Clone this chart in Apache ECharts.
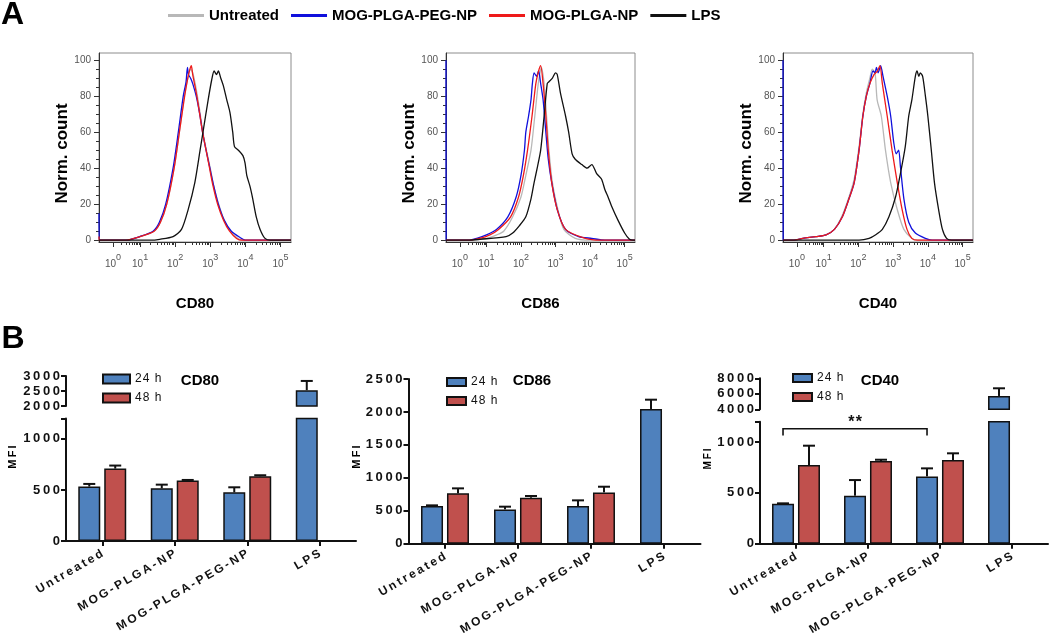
<!DOCTYPE html>
<html><head><meta charset="utf-8">
<script src="https://cdn.jsdelivr.net/npm/echarts@6/dist/echarts.min.js"></script>
<style>html,body{margin:0;padding:0;background:#fff}#c{width:1050px;height:640px}</style>
</head><body><div id="c"></div>
<script>
// ===== Panel A: flow cytometry histograms. x = display decade (10^x, 10^0 compressed), y = normalized count
const decadeExponents = ['0','1','2','3','4','5'];
const decadePositions = [0.23, 1, 2, 3, 4, 5];
const histNames = ['Untreated', 'MOG-PLGA-PEG-NP', 'MOG-PLGA-NP', 'LPS'];
const yTickValues = [0, 20, 40, 60, 80, 100];

const cd80Untreated = [[-0.17,0],[0.6,0],[1.0,2],[1.4,5],[1.58,10],[1.76,20],[1.97,40],[2.12,60],[2.26,80],[2.36,90],[2.44,95],[2.5,93],[2.6,84],[2.7,72],[2.79,60],[2.89,50],[3.0,40],[3.1,30],[3.24,20],[3.4,11],[3.58,5],[3.78,1],[3.95,0],[5.3,0]];
const cd80PegNP = [[-0.17,15],[-0.165,0],[0.6,0],[0.99,2],[1.37,5],[1.55,10],[1.73,20],[1.94,40],[2.09,60],[2.23,80],[2.31,88],[2.35,96],[2.38,92],[2.44,90],[2.5,87],[2.6,80],[2.7,70],[2.78,60],[2.88,50],[2.99,40],[3.1,30],[3.23,20],[3.4,11],[3.6,5],[3.85,1.5],[4.0,0],[5.3,0]];
const cd80PlgaNP = [[-0.17,2],[-0.165,0],[0.6,0],[1.0,2],[1.4,5],[1.58,10],[1.76,20],[1.97,40],[2.12,60],[2.27,80],[2.36,90],[2.42,95],[2.46,97],[2.5,92],[2.6,82],[2.7,70],[2.78,60],[2.88,50],[2.98,40],[3.08,30],[3.21,20],[3.38,11],[3.55,5],[3.75,1],[3.9,0],[5.3,0]];
const cd80LPS = [[-0.17,0],[1.3,0],[1.56,0.5],[1.94,2],[2.18,6],[2.37,17],[2.56,32],[2.71,50],[2.80,61],[2.94,78],[3.04,89],[3.11,94],[3.18,92],[3.23,94],[3.3,90],[3.37,86],[3.47,78],[3.56,71],[3.64,60],[3.69,52],[3.80,50],[3.93,47],[3.99,43],[4.04,36],[4.13,30],[4.21,23],[4.31,13],[4.42,6],[4.56,1],[4.71,0],[5.3,0]];

const cd86Untreated = [[-0.17,0],[0.6,0],[1.0,1],[1.3,3],[1.5,5],[1.76,13],[2.00,24],[2.14,36],[2.29,50],[2.40,69],[2.50,87],[2.56,94],[2.59,96],[2.67,87],[2.74,69],[2.81,50],[2.91,32],[3.07,17],[3.24,6],[3.57,1],[4.0,0],[5.3,0]];
const cd86PegNP = [[-0.17,100],[-0.165,0],[0.5,0],[0.72,1],[1.00,3],[1.29,6],[1.62,13],[1.86,24],[2.00,36],[2.10,50],[2.14,60],[2.22,69],[2.29,78],[2.33,87],[2.38,93],[2.45,91],[2.51,94],[2.57,87],[2.64,78],[2.72,60],[2.79,45],[2.89,32],[3.05,17],[3.29,6],[3.67,2],[4.05,1],[4.43,0],[5.3,0]];
const cd86PlgaNP = [[-0.17,0],[0.5,0],[0.8,1],[1.1,3],[1.35,6],[1.70,13],[1.93,24],[2.07,36],[2.19,50],[2.32,69],[2.43,87],[2.51,94],[2.57,97],[2.64,87],[2.72,69],[2.79,50],[2.89,32],[3.05,17],[3.29,6],[3.86,1],[4.3,0],[5.3,0]];
const cd86LPS = [[-0.17,0],[0.5,0],[0.81,0.5],[1.57,2],[1.76,4],[1.95,8],[2.14,13],[2.29,23],[2.38,32],[2.48,41],[2.57,50],[2.67,69],[2.76,87],[2.81,88],[2.91,90],[3.00,93],[3.05,92],[3.14,82],[3.29,69],[3.38,60],[3.48,48],[3.57,45],[3.76,42],[3.91,40],[4.05,42],[4.19,37],[4.33,34],[4.43,28],[4.52,24],[4.62,19],[4.81,11],[5.00,4],[5.14,0.5],[5.24,0],[5.3,0]];

const cd40Untreated = [[-0.17,0],[0.12,0],[0.40,1],[0.78,2],[1.07,3],[1.31,6],[1.54,14],[1.73,24],[1.88,34],[2.02,52],[2.13,70],[2.23,82],[2.33,90],[2.40,95],[2.48,93],[2.54,78],[2.66,69],[2.78,50],[2.93,32],[3.12,17],[3.31,6],[3.54,1],[3.7,0],[5.3,0]];
const cd40PegNP = [[-0.17,100],[-0.165,0],[0.12,0],[0.40,1],[0.78,2],[1.07,3],[1.31,6],[1.54,13],[1.73,23],[1.88,32],[2.02,50],[2.13,69],[2.23,80],[2.33,87],[2.42,94],[2.48,93],[2.52,96],[2.57,93],[2.64,97],[2.71,91],[2.83,80],[2.93,69],[3.02,54],[3.09,48],[3.16,50],[3.21,41],[3.31,23],[3.45,10],[3.64,4],[3.93,1],[4.12,0],[5.3,0]];
const cd40PlgaNP = [[-0.17,0],[0.12,0],[0.40,1],[0.78,2],[1.07,3],[1.31,6],[1.54,13],[1.73,23],[1.88,32],[2.02,50],[2.13,69],[2.23,80],[2.33,87],[2.45,92],[2.55,94],[2.62,97],[2.69,87],[2.83,69],[2.97,50],[3.12,32],[3.26,17],[3.40,6],[3.54,1],[3.7,0],[5.3,0]];
const cd40LPS = [[-0.17,0],[2.02,0],[2.31,1],[2.50,3],[2.69,6],[2.88,13],[3.07,24],[3.21,37],[3.35,52],[3.45,69],[3.54,78],[3.64,91],[3.69,94],[3.74,91],[3.78,93],[3.85,91],[3.93,80],[4.00,69],[4.10,50],[4.19,32],[4.31,17],[4.42,6],[4.54,1],[4.69,0],[5.3,0]];

// ===== Panel B: MFI bar charts (mean, SEM)
const barCategories = ['Untreated', 'MOG-PLGA-NP', 'MOG-PLGA-PEG-NP', 'LPS'];
const barSeriesNames = ['24 h', '48 h'];
const cd80h24 = [533, 516, 477, 2527];
const cd80h24Err = [26, 36, 49, 308];
const cd80h48 = [709, 592, 634, null];
const cd80h48Err = [30, 6, 10, null];
const cd86h24 = [572, 521, 572, 2045];
const cd86h24Err = [10, 41, 86, 141];
const cd86h48 = [764, 698, 779, null];
const cd86h48Err = [76, 26, 86, null];
const cd40h24 = [393, 472, 662, 5720];
const cd40h24Err = [4, 154, 79, 990];
const cd40h48 = [774, 813, 823, null];
const cd40h48Err = [190, 13, 66, null];
const cd40Significance = [[0, 2, '**']];

// ===== styling
const FONT = "'Liberation Sans', Arial, Helvetica, sans-serif";
const sp = (s, ch) => String(s).split('').join(ch || '\u2009');
const histColors = ['#b8b8b8', '#1010dc', '#ee1a1a', '#111111'];
const barColors = ['#4f81bd', '#c0504d'];
const BAR_W = 22, BAR_GAP = 0.18;
const BAR_OFF = BAR_W / 2 + BAR_W * BAR_GAP / 2;

const grid = [], xAxis = [], yAxis = [], series = [];

// ---- histograms
const histPanels = [
  { title: 'CD80', rect: { left: 99, top: 53, width: 192, height: 189 }, data: [cd80Untreated, cd80PegNP, cd80PlgaNP, cd80LPS] },
  { title: 'CD86', rect: { left: 446, top: 53, width: 189, height: 189 }, data: [cd86Untreated, cd86PegNP, cd86PlgaNP, cd86LPS] },
  { title: 'CD40', rect: { left: 783, top: 53, width: 190, height: 189 }, data: [cd40Untreated, cd40PegNP, cd40PlgaNP, cd40LPS] }
];
const X_MIN = -0.17, X_MAX = 5.3;
const xMinor = [];
for (let k = 2; k <= 9; k++) xMinor.push(decadePositions[0] + (1 - decadePositions[0]) * Math.log10(k));
for (let d = 1; d <= 4; d++) for (let k = 2; k <= 9; k++) xMinor.push(d + Math.log10(k));
const yMinor = [];
for (let v = 5; v < 104; v += 5) if (v % 20) yMinor.push(v);

histPanels.forEach((p, pi) => {
  const gi = grid.length;
  grid.push(Object.assign({ show: true, borderColor: '#8c8c8c', borderWidth: 1, backgroundColor: 'transparent' }, p.rect));
  const xi = xAxis.length, yi = yAxis.length;
  xAxis.push({
    type: 'value', gridIndex: gi, min: X_MIN, max: X_MAX, position: 'bottom',
    name: p.title, nameLocation: 'middle', nameGap: 54,
    nameTextStyle: { fontSize: 15, fontWeight: 'bold', color: '#000', fontFamily: FONT },
    axisLine: { show: true, onZero: false, lineStyle: { color: '#333', width: 1 } },
    axisTick: { show: true, length: 5, customValues: decadePositions, lineStyle: { color: '#333' } },
    axisLabel: {
      customValues: decadePositions, margin: 11,
      formatter: v => {
        let idx = 0, best = 1e9;
        decadePositions.forEach((d, i) => { if (Math.abs(d - v) < best) { best = Math.abs(d - v); idx = i; } });
        return '{b|10}{s|' + decadeExponents[idx] + '}';
      },
      rich: {
        b: { fontSize: 10, color: '#555', fontFamily: FONT, verticalAlign: 'bottom', lineHeight: 16 },
        s: { fontSize: 9, color: '#555', fontFamily: FONT, verticalAlign: 'top', lineHeight: 16 }
      }
    },
    splitLine: { show: false }
  });
  xAxis.push({
    type: 'value', gridIndex: gi, min: X_MIN, max: X_MAX, position: 'bottom', offset: 0,
    axisLine: { show: false, onZero: false }, axisLabel: { show: false }, splitLine: { show: false },
    axisTick: { show: true, length: 3, customValues: xMinor, lineStyle: { color: '#333' } }
  });
  yAxis.push({
    type: 'value', gridIndex: gi, min: -1, max: 104, position: 'left',
    name: 'Norm. count', nameLocation: 'middle', nameGap: 28,
    nameTextStyle: { fontSize: 17, fontWeight: 'bold', color: '#000', fontFamily: FONT, padding: [0, 12, 0, 0] },
    axisLine: { show: true, onZero: false, lineStyle: { color: '#333', width: 1 } },
    axisTick: { show: true, length: 5, customValues: yTickValues, lineStyle: { color: '#333' } },
    axisLabel: { customValues: yTickValues, fontSize: 10, color: '#555', margin: 8, fontFamily: FONT },
    splitLine: { show: false }
  });
  yAxis.push({
    type: 'value', gridIndex: gi, min: -1, max: 104, position: 'left', offset: 0,
    axisLine: { show: false, onZero: false }, axisLabel: { show: false }, splitLine: { show: false },
    axisTick: { show: true, length: 3, customValues: yMinor, lineStyle: { color: '#333' } }
  });
  p.data.forEach((d, si) => {
    series.push({
      type: 'line', name: histNames[si], xAxisIndex: xi, yAxisIndex: yi, data: d,
      showSymbol: false, symbol: 'none', smooth: 0.25, clip: true,
      lineStyle: { color: histColors[si], width: 1.3 }, itemStyle: { color: histColors[si] },
      z: 3 + si
    });
  });
});

// ---- bar charts
function errItem(vals, errs, filt) {
  const out = [];
  vals.forEach((v, i) => { if (v != null && errs[i] != null && filt(v)) out.push([i, v, v + errs[i]]); });
  return out;
}
function errSeries(name, xi, yi, data, side) {
  return {
    type: 'custom', name: name, xAxisIndex: xi, yAxisIndex: yi, data: data, z: 4, clip: false,
    encode: { x: 0, y: 1 }, silent: true,
    renderItem: (params, api) => {
      const p0 = api.coord([api.value(0), api.value(1)]);
      const p1 = api.coord([api.value(0), api.value(2)]);
      const x = p0[0] + side * BAR_OFF;
      const st = { stroke: '#111', lineWidth: 2 };
      return { type: 'group', children: [
        { type: 'line', shape: { x1: x, y1: p0[1], x2: x, y2: p1[1] }, style: st },
        { type: 'line', shape: { x1: x - 6, y1: p1[1], x2: x + 6, y2: p1[1] }, style: st }
      ] };
    }
  };
}
function mfiY(gi, min, max, labels, ticks) {
  return {
    type: 'value', gridIndex: gi, min: min, max: max,
    axisLine: { show: true, onZero: false, lineStyle: { color: '#111', width: 2 } },
    axisTick: { show: true, length: 5, customValues: ticks, lineStyle: { color: '#111', width: 2 } },
    axisLabel: { customValues: labels, fontSize: 13, fontWeight: 'bold', color: '#111', margin: 6, fontFamily: FONT, formatter: v => sp(v) },
    splitLine: { show: false }
  };
}
function catX(gi, show) {
  return {
    type: 'category', gridIndex: gi, data: barCategories, show: show,
    axisLine: { show: true, lineStyle: { color: '#111', width: 2 } },
    axisTick: { show: true, alignWithLabel: true, length: 5, lineStyle: { color: '#111', width: 2 } },
    axisLabel: { rotate: 30, interval: 0, fontSize: 12, fontWeight: 'bold', color: '#111', margin: 12, fontFamily: FONT, formatter: v => sp(v) },
    splitLine: { show: false }
  };
}
const barPanels = [
  { v: [cd80h24, cd80h48], e: [cd80h24Err, cd80h48Err], segs: [
      { rect: { left: 66, top: 376, width: 290, height: 30 }, min: 2000, max: 3000, labels: [2000, 2500, 3000], ticks: [2000, 2500, 3000], upper: true },
      { rect: { left: 66, top: 418.5, width: 290, height: 122.5 }, min: 0, max: 1200, labels: [0, 500, 1000], ticks: [0, 500, 1000, 1200], upper: false }
  ] },
  { v: [cd86h24, cd86h48], e: [cd86h24Err, cd86h48Err], segs: [
      { rect: { left: 408.5, top: 379, width: 292, height: 164.7 }, min: 0, max: 2500, labels: [0, 500, 1000, 1500, 2000, 2500], ticks: [0, 500, 1000, 1500, 2000, 2500], upper: false, single: true }
  ] },
  { v: [cd40h24, cd40h48], e: [cd40h24Err, cd40h48Err], segs: [
      { rect: { left: 760, top: 378.3, width: 288, height: 31 }, min: 4000, max: 8000, labels: [4000, 6000, 8000], ticks: [4000, 6000, 8000], upper: true },
      { rect: { left: 760, top: 421.7, width: 288, height: 122 }, min: 0, max: 1200, labels: [0, 500, 1000], ticks: [0, 500, 1000, 1200], upper: false }
  ] }
];
let cd40LowerX = -1, cd40LowerY = -1;
barPanels.forEach((bp, bi) => {
  bp.segs.forEach(sg => {
    const gi = grid.length;
    grid.push(Object.assign({ show: false }, sg.rect));
    const xi = xAxis.length, yi = yAxis.length;
    xAxis.push(catX(gi, !sg.upper));
    yAxis.push(mfiY(gi, sg.min, sg.max, sg.labels, sg.ticks));
    if (bi === 2 && !sg.upper) { cd40LowerX = xi; cd40LowerY = yi; }
    const inSeg = sg.upper ? (v => v > sg.min) : (sg.single ? (v => true) : (v => v <= sg.max));
    [0, 1].forEach(k => {
      const vals = sg.upper ? bp.v[k].map(v => (v != null && v > sg.min) ? v : null) : bp.v[k];
      series.push({
        type: 'bar', name: barSeriesNames[k], xAxisIndex: xi, yAxisIndex: yi, data: vals,
        barWidth: BAR_W, barGap: (BAR_GAP * 100) + '%', clip: true,
        itemStyle: { color: barColors[k], borderColor: '#111', borderWidth: 1.5 }, z: 2
      });
      series.push(errSeries(barSeriesNames[k], xi, yi, errItem(bp.v[k], bp.e[k], inSeg), k === 0 ? -1 : 1));
    });
  });
});
// significance bracket (CD40, 24 h)
const SIG_LEVEL = 1130, SIG_DROP = 1065;
series.push({
  type: 'custom', xAxisIndex: cd40LowerX, yAxisIndex: cd40LowerY, clip: false, silent: true, z: 5,
  data: cd40Significance.map(s => [s[0], s[1]]),
  renderItem: (params, api) => {
    const s = cd40Significance[params.dataIndex];
    const a = api.coord([api.value(0), SIG_LEVEL]);
    const b = api.coord([api.value(1), SIG_LEVEL]);
    const ad = api.coord([api.value(0), SIG_DROP]);
    const x1 = a[0] - BAR_OFF, x2 = b[0] - BAR_OFF;
    const st = { stroke: '#111', lineWidth: 1.6, fill: null };
    return { type: 'group', children: [
      { type: 'polyline', shape: { points: [[x1, ad[1]], [x1, a[1]], [x2, a[1]], [x2, ad[1]]] }, style: st },
      { type: 'text', x: (x1 + x2) / 2, y: a[1] + 2, style: { text: sp(s[2], '\u200A'), font: 'bold 16px ' + FONT, fill: '#111', align: 'center', verticalAlign: 'bottom' } }
    ] };
  }
});

const legendText = { fontSize: 12, color: '#111', fontFamily: FONT };
const legend = [
  { data: histNames, left: 168, top: 8, padding: 0, icon: 'rect', itemWidth: 36, itemHeight: 3, itemGap: 12, selectedMode: false,
    textStyle: { fontSize: 15, fontWeight: 'bold', color: '#000', fontFamily: FONT } },
  { data: barSeriesNames, orient: 'vertical', left: 102, top: 373, padding: 0, icon: 'rect', itemWidth: 27, itemHeight: 9, itemGap: 7, selectedMode: false, textStyle: legendText, formatter: n => sp(n, '\u200A') },
  { data: barSeriesNames, orient: 'vertical', left: 446, top: 376, padding: 0, icon: 'rect', itemWidth: 19, itemHeight: 8, itemGap: 7, selectedMode: false, textStyle: legendText, formatter: n => sp(n, '\u200A') },
  { data: barSeriesNames, orient: 'vertical', left: 792, top: 372, padding: 0, icon: 'rect', itemWidth: 19, itemHeight: 8, itemGap: 7, selectedMode: false, textStyle: legendText, formatter: n => sp(n, '\u200A') }
];

const txt = (t, x, y, font, opt) => Object.assign({ type: 'text', x: x, y: y, silent: true,
  style: { text: t, font: font, fill: '#000', align: 'center', verticalAlign: 'middle' } }, opt || {});
const graphic = { elements: [
  txt('A', 12.5, 15, 'bold 32px ' + FONT),
  txt('B', 13, 339, 'bold 32px ' + FONT),
  txt('CD80', 200, 381, 'bold 15px ' + FONT),
  txt('CD86', 532, 381, 'bold 15px ' + FONT),
  txt('CD40', 880, 381, 'bold 15px ' + FONT),
  txt(sp('MFI'), 13, 457, 'bold 11px ' + FONT, { rotation: Math.PI / 2 }),
  txt(sp('MFI'), 357, 457, 'bold 11px ' + FONT, { rotation: Math.PI / 2 }),
  txt(sp('MFI'), 708, 459, 'bold 10px ' + FONT, { rotation: Math.PI / 2 })
] };

const chart = echarts.init(document.getElementById('c'), null, { renderer: 'canvas' });
chart.setOption({
  animation: false, backgroundColor: '#fff',
  textStyle: { fontFamily: FONT },
  grid: grid, xAxis: xAxis, yAxis: yAxis, series: series, legend: legend, graphic: graphic
});
</script>
</body></html>
